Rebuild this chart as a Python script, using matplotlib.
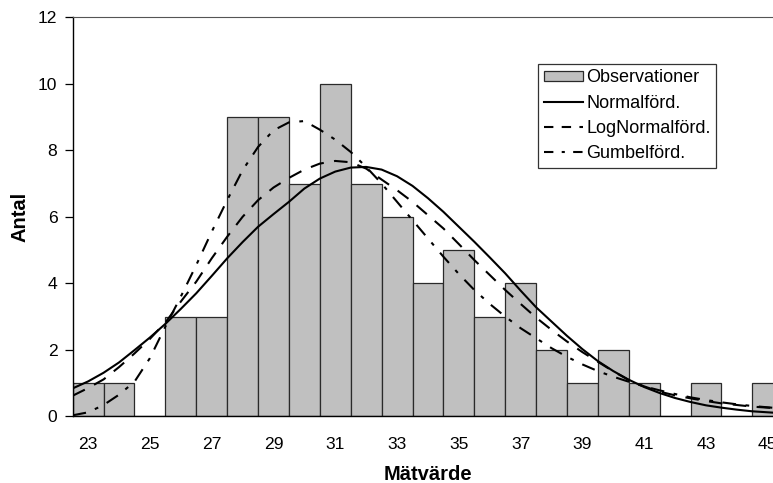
import matplotlib
matplotlib.use("Agg")
import matplotlib.pyplot as plt
from matplotlib.patches import Patch
from matplotlib.lines import Line2D

plt.rcParams['font.family'] = ['Liberation Sans', 'DejaVu Sans']

# Histogram data
bins = [23, 24, 25, 26, 27, 28, 29, 30, 31, 32, 33, 34, 35, 36, 37, 38, 39, 40, 41, 42, 43, 44, 45]
counts = [1, 1, 0, 3, 3, 9, 9, 7, 10, 7, 6, 4, 5, 3, 4, 2, 1, 2, 1, 0, 1, 0, 1]

# Fitted curves
curve_x = [22.5, 23.0, 23.5, 24.0, 24.5, 25.0, 25.5, 26.0, 26.5, 27.0, 27.5, 28.0,
           28.5, 29.0, 29.5, 30.0, 30.5, 31.0, 31.5, 32.0, 32.5, 33.0, 33.5, 34.0,
           34.5, 35.0, 35.5, 36.0, 36.5, 37.0, 37.5, 38.0, 38.5, 39.0, 39.5, 40.0,
           40.5, 41.0, 41.5, 42.0, 42.5, 43.0, 43.5, 44.0, 44.5, 45.0, 45.5]
normal = [0.84, 1.05, 1.31, 1.62, 1.99, 2.37, 2.78, 3.23, 3.70, 4.22, 4.75, 5.24,
          5.70, 6.08, 6.45, 6.85, 7.15, 7.36, 7.48, 7.50, 7.42, 7.22, 6.93, 6.56,
          6.15, 5.70, 5.25, 4.78, 4.30, 3.78, 3.28, 2.85, 2.42, 2.02, 1.66, 1.36,
          1.10, 0.88, 0.70, 0.55, 0.43, 0.33, 0.26, 0.20, 0.15, 0.12, 0.09]
lognormal = [0.62, 0.85, 1.11, 1.48, 1.89, 2.33, 2.82, 3.45, 4.05, 4.75, 5.40, 6.00,
             6.50, 6.88, 7.17, 7.42, 7.60, 7.68, 7.64, 7.45, 7.12, 6.80, 6.45, 6.05,
             5.65, 5.18, 4.70, 4.25, 3.80, 3.38, 2.97, 2.60, 2.25, 1.93, 1.64, 1.35,
             1.09, 0.90, 0.74, 0.63, 0.54, 0.46, 0.39, 0.34, 0.29, 0.26, 0.23]
gumbel = [0.03, 0.12, 0.34, 0.65, 1.04, 1.75, 2.70, 3.60, 4.55, 5.55, 6.50, 7.40,
          8.10, 8.60, 8.84, 8.88, 8.62, 8.32, 7.95, 7.50, 7.00, 6.45, 5.90, 5.35,
          4.80, 4.28, 3.80, 3.38, 3.00, 2.65, 2.35, 2.05, 1.79, 1.56, 1.36, 1.19,
          1.04, 0.90, 0.78, 0.67, 0.57, 0.49, 0.42, 0.36, 0.31, 0.27, 0.23]

xticks = [23, 25, 27, 29, 31, 33, 35, 37, 39, 41, 43, 45]
yticks = [0, 2, 4, 6, 8, 10, 12]

W, H = 773, 483
fig = plt.figure(figsize=(W / 100, H / 100), dpi=100)
left, right, top, bottom = 72.7, 783.2, 17.3, 416.3
ax = fig.add_axes([left / W, (H - bottom) / H, (right - left) / W, (bottom - top) / H])

ax.bar(bins, counts, width=1.0, align='center', color='#C0C0C0',
       edgecolor='#2a2a2a', linewidth=0.9, zorder=2)

lw = 1.5
ax.plot(curve_x, normal, color='black', lw=lw, zorder=3)
ax.plot(curve_x, lognormal, color='black', lw=lw, linestyle=(0, (6.5, 5.0)), zorder=3)
ax.plot(curve_x, gumbel, color='black', lw=lw, linestyle=(0, (6.5, 4.6, 1.8, 4.6)), zorder=3)

ax.set_xlim(22.5, 45.5)
ax.set_ylim(0, 12)
ax.set_xticks(xticks)
ax.set_yticks(yticks)
ax.tick_params(axis='x', length=0, pad=15, labelsize=12.6)
ax.tick_params(axis='y', length=6, width=0.9, direction='out', pad=5, labelsize=12.6)

for s in ['left', 'bottom']:
    ax.spines[s].set_color('black')
    ax.spines[s].set_linewidth(1.0)
for s in ['top', 'right']:
    ax.spines[s].set_color('#555555')
    ax.spines[s].set_linewidth(0.8)

ax.set_xlabel('Mätvärde', fontsize=14.5, fontweight='bold', labelpad=9)
ax.set_ylabel('Antal', fontsize=14.5, fontweight='bold', labelpad=6)

handles = [
    Patch(facecolor='#C0C0C0', edgecolor='#2a2a2a', linewidth=0.9),
    Line2D([], [], color='black', lw=lw),
    Line2D([], [], color='black', lw=lw, linestyle=(0, (4.5, 4.0))),
    Line2D([], [], color='black', lw=lw, linestyle=(0, (4.5, 4.0, 1.5, 4.0))),
]
labels = ['Observationer', 'Normalförd.', 'LogNormalförd.', 'Gumbelförd.']
leg = fig.legend(handles, labels, loc='upper left',
                 bbox_to_anchor=(538.3 / W, 1 - 64 / H), bbox_transform=fig.transFigure,
                 fontsize=13, frameon=True, fancybox=False, shadow=False,
                 borderpad=0.3, labelspacing=0.46, handlelength=2.15,
                 handletextpad=0.2, handleheight=0.55, borderaxespad=0)
leg.get_frame().set_edgecolor('black')
leg.get_frame().set_linewidth(0.9)

fig.savefig('out.png', dpi=100)
